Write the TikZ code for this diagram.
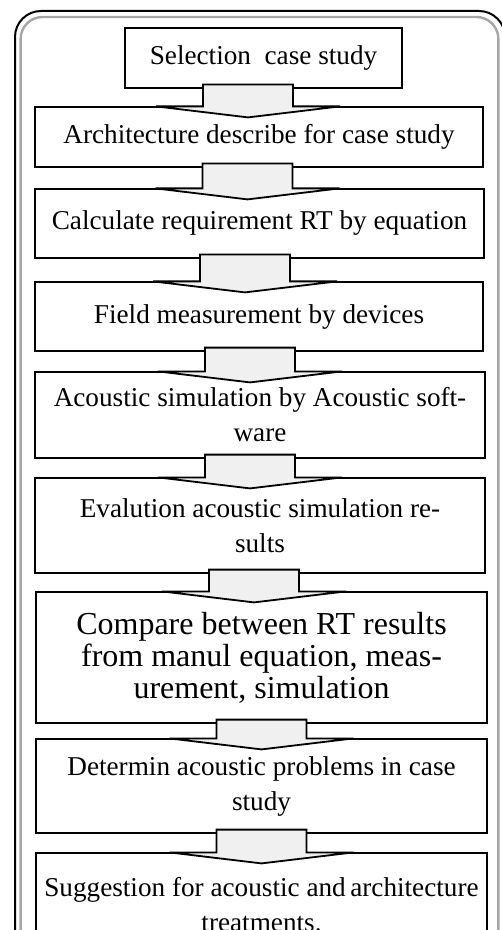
\documentclass[tikz,border=0pt]{standalone}
\usepackage{fontspec}
\setmainfont{Liberation Serif}
\usetikzlibrary{calc}
\usepackage{xcolor}
\definecolor{arrowfill}{HTML}{F0F0F0}
\definecolor{framegray}{HTML}{A6A6A6}

\begin{document}
\begin{tikzpicture}[x=1pt,y=1pt]
                \tikzstyle{stepbox} = [draw=black, fill=white, line width=0.6pt, align=center, inner sep=2pt, font=\fontsize{13.6}{17.5}\selectfont];
                % block arrow: shaft leaves the upper box, head sits on the lower one
                \tikzset{flowarrow/.style={draw=black, fill=arrowfill, line width=0.9pt, line join=miter,
                    to path={let \p1=(\tikztostart.south), \p2=(\tikztotarget.north) in
                        (\x2+#1pt-22.5pt,\y1+2pt) -- (\x2+#1pt-22.5pt,\y2) -- (\x2+#1pt-46pt,\y2)
                        -- (\x2+#1pt,\y2-5.5pt) -- (\x2+#1pt+46pt,\y2) -- (\x2+#1pt+22.5pt,\y2)
                        -- (\x2+#1pt+22.5pt,\y1+2pt) -- cycle}},
                    flowarrow/.default=0};

                \useasboundingbox (0,0) rectangle (251,-465);
                \clip (0,0) rectangle (251,-465);

                % outer frame
                \draw[line width=1pt, rounded corners=13pt] (7.5,-5.5) rectangle (252.5,-500);
                \draw[framegray, line width=1.2pt, rounded corners=11pt] (10.3,-8.5) rectangle (249.2,-500);

                \node[stepbox, minimum width=138.5pt, minimum height=30pt](S1) at (131.75,-29) {Selection~ case study};
                \node[stepbox, minimum width=224pt, minimum height=30pt](S2) at (129.5,-68.5) {Architecture describe for case study};
                \node[stepbox, minimum width=224.5pt, minimum height=34.5pt](S3) at (129.75,-111.75) {Calculate requirement RT by equation};
                \node[stepbox, minimum width=224pt, minimum height=34.5pt](S4) at (129.5,-158.25) {Field measurement by devices};
                \node[stepbox, minimum width=225pt, minimum height=43pt](S5) at (130,-207.5) {Acoustic simulation by Acoustic soft-\\ware};
                \node[stepbox, minimum width=225pt, minimum height=47.5pt](S6) at (130,-262.75) {Evalution acoustic simulation re-\\sults};
                \node[stepbox, minimum width=225.5pt, minimum height=65.5pt, font=\fontsize{16}{16}\selectfont](S7) at (130.75,-328.75) {Compare between RT results\\from manul equation, meas-\\urement, simulation};
                \node[stepbox, minimum width=225.5pt, minimum height=47pt](S8) at (130.75,-393) {Determin acoustic problems in case\\study};
                \node[stepbox, minimum width=225.5pt, minimum height=52pt](S9) at (130.75,-452.5) {Suggestion for acoustic and\,architecture\\treatments.};

                \draw[flowarrow=-5.5] (S1) to (S2);
                \draw[flowarrow=-6] (S2) to (S3);
                \draw[flowarrow=-7] (S3) to (S4);
                \draw[flowarrow=-5] (S4) to (S5);
                \draw[flowarrow=-5] (S5) to (S6);
                \draw[flowarrow=-3.75] (S6) to (S7);
                \draw[flowarrow] (S7) to (S8);
                \draw[flowarrow] (S8) to (S9);
            \end{tikzpicture}
\end{document}
